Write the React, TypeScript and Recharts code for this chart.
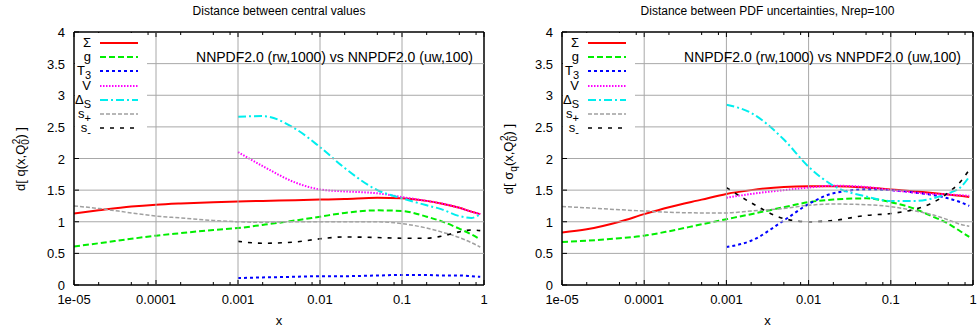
import React from "react";
import { LineChart, Line, XAxis, YAxis } from "recharts";

const xValues = [1e-5, 2e-5, 5e-5, 1e-4, 2e-4, 5e-4, 1e-3, 2e-3, 5e-3, 0.01, 0.02, 0.05, 0.1, 0.2, 0.3, 0.5, 0.7, 0.9];

// left panel: distance between central values
const cvSigma = [1.13, 1.18, 1.24, 1.27, 1.29, 1.31, 1.32, 1.33, 1.34, 1.35, 1.36, 1.38, 1.37, 1.33, 1.29, 1.22, 1.16, 1.12];
const cvG = [0.61, 0.66, 0.73, 0.78, 0.82, 0.87, 0.9, 0.95, 1.02, 1.08, 1.14, 1.18, 1.17, 1.08, 1.01, 0.89, 0.8, 0.72];
const cvT3 = [null, null, null, null, null, null, 0.11, 0.12, 0.13, 0.14, 0.14, 0.15, 0.16, 0.16, 0.15, 0.15, 0.14, 0.13];
const cvV = [null, null, null, null, null, null, 2.1, 1.88, 1.62, 1.51, 1.48, 1.45, 1.39, 1.33, 1.29, 1.22, 1.16, 1.12];
const cvDS = [null, null, null, null, null, null, 2.66, 2.67, 2.47, 2.18, 1.85, 1.5, 1.37, 1.26, 1.2, 1.09, 1.06, 1.12];
const cvSp = [1.25, 1.21, 1.14, 1.09, 1.06, 1.02, 1.0, 0.99, 1.0, 1.0, 1.0, 1.0, 0.97, 0.9, 0.84, 0.75, 0.67, 0.6];
const cvSm = [null, null, null, null, null, null, 0.69, 0.66, 0.68, 0.73, 0.76, 0.75, 0.74, 0.74, 0.77, 0.84, 0.87, 0.86];

// right panel: distance between PDF uncertainties
const unSigma = [0.83, 0.88, 1.0, 1.12, 1.23, 1.35, 1.44, 1.5, 1.55, 1.56, 1.56, 1.54, 1.51, 1.48, 1.46, 1.43, 1.41, 1.39];
const unG = [0.68, 0.7, 0.74, 0.78, 0.85, 0.96, 1.04, 1.12, 1.23, 1.31, 1.35, 1.37, 1.31, 1.2, 1.1, 0.97, 0.85, 0.76];
const unT3 = [null, null, null, null, null, null, 0.6, 0.7, 1.02, 1.28, 1.45, 1.51, 1.5, 1.46, 1.43, 1.37, 1.31, 1.25];
const unV = [null, null, null, null, null, null, 1.38, 1.44, 1.5, 1.54, 1.57, 1.55, 1.5, 1.46, 1.44, 1.43, 1.42, 1.41];
const unDS = [null, null, null, null, null, null, 2.85, 2.72, 2.3, 1.87, 1.57, 1.4, 1.33, 1.33, 1.36, 1.45, 1.54, 1.71];
const unSp = [1.24, 1.22, 1.19, 1.17, 1.15, 1.14, 1.14, 1.17, 1.21, 1.26, 1.28, 1.27, 1.24, 1.17, 1.12, 1.03, 0.96, 0.93];
const unSm = [null, null, null, null, null, null, 1.54, 1.3, 1.05, 1.0, 1.02, 1.1, 1.13, 1.2, 1.28, 1.46, 1.63, 1.82];

const majorX = [1e-5, 1e-4, 1e-3, 0.01, 0.1, 1];
const majorXLabels = ["1e-05", "0.0001", "0.001", "0.01", "0.1", "1"];
const minorX = [2e-5, 5e-5, 8e-5, 2e-4, 5e-4, 8e-4, 2e-3, 5e-3, 8e-3, 0.02, 0.05, 0.08, 0.2, 0.5, 0.8];
const yTicks = [0, 0.5, 1, 1.5, 2, 2.5, 3, 3.5, 4];
const yTickLabels = ["0", "0.5", "1", "1.5", "2", "2.5", "3", "3.5", "4"];

const FONT = "'Liberation Sans', Arial, Helvetica, sans-serif";
const allX = [...majorX, ...minorX].sort((a, b) => a - b);
const subStyle = { fontSize: 11, lineHeight: 0 };
const GRID = "#a8a8a8";
const PLOT_TOP = 32;
const PLOT_H = 253;

const series = [
  { key: "sigma", label: <>Σ</>, color: "#ff0000", dash: undefined, width: 2 },
  { key: "g", label: <>g</>, color: "#00ee00", dash: "6 3", width: 2 },
  { key: "t3", label: <>T<sub style={subStyle}>3</sub></>, color: "#0000ff", dash: "3 3", width: 2 },
  { key: "v", label: <>V</>, color: "#ff00ff", dash: "1.5 1.5", width: 2 },
  { key: "ds", label: <>Δ<sub style={subStyle}>S</sub></>, color: "#00eeee", dash: "8 3 2 3", width: 2 },
  { key: "sp", label: <>s<sub style={subStyle}>+</sub></>, color: "#a0a0a0", dash: "4 2", width: 1.5 },
  { key: "sm", label: <>s<sub style={subStyle}>-</sub></>, color: "#000000", dash: "4 6", width: 1.6 },
];

function buildRows(cols: (number | null)[][]) {
  return xValues.map((x, i) => {
    const row: any = { x };
    series.forEach((s, k) => {
      row[s.key] = cols[k][i];
    });
    return row;
  });
}

// bottom axis tick: inward tick mark, label for decades, grid line up to the top
const BottomTick = (props: any) => {
  const { x, y, payload } = props;
  const idx = majorX.indexOf(payload.value);
  const major = idx >= 0;
  const inner = major && idx > 0 && idx < majorX.length - 1;
  return (
    <g>
      {inner && <path d={`M${x},${y}L${x},${PLOT_TOP}`} stroke={GRID} strokeWidth={1} fill="none" />}
      <line x1={x} y1={y} x2={x} y2={y - (major ? 5 : 3)} stroke="#000" strokeWidth={1} />
      {major && (
        <text x={x} y={y + 19} textAnchor="middle" fontSize={13} fontFamily={FONT} fill="#000">
          {majorXLabels[idx]}
        </text>
      )}
    </g>
  );
};

const TopTick = (props: any) => {
  const { x, y, payload } = props;
  const major = majorX.indexOf(payload.value) >= 0;
  return <line x1={x} y1={y} x2={x} y2={y + (major ? 5 : 3)} stroke="#000" strokeWidth={1} />;
};

const LeftTick = (props: any) => {
  const { x, y, payload, plotW } = props;
  const idx = yTicks.indexOf(payload.value);
  const inner = idx > 0 && idx < yTicks.length - 1;
  return (
    <g>
      {inner && <path d={`M${x},${y}L${x + plotW},${y}`} stroke={GRID} strokeWidth={1} fill="none" />}
      <line x1={x} y1={y} x2={x + 5} y2={y} stroke="#000" strokeWidth={1} />
      <text x={x - 9} y={y + 5} textAnchor="end" fontSize={13} fontFamily={FONT} fill="#000">
        {yTickLabels[idx]}
      </text>
    </g>
  );
};

const RightTick = (props: any) => {
  const { x, y } = props;
  return <line x1={x} y1={y} x2={x - 5} y2={y} stroke="#000" strokeWidth={1} />;
};

function Panel({ left, width, title, yLabel, rows }: any) {
  const plotW = width - 79;
  const plotCenter = 74 + plotW / 2;
  const frame = { stroke: "#000", strokeWidth: 1.5 };
  return (
    <div style={{ position: "absolute", left, top: 0, width, height: 329, fontFamily: FONT }}>
      <LineChart width={width} height={329} data={rows} margin={{ top: 0, right: 0, bottom: 0, left: 0 }}>
        <XAxis
          dataKey="x"
          type="number"
          scale="log"
          domain={[1e-5, 1]}
          allowDataOverflow
          ticks={allX}
          interval={0}
          tickSize={0}
          tickMargin={0}
          tick={<BottomTick />}
          tickLine={false}
          axisLine={frame}
          height={44}
        />
        <XAxis
          xAxisId="top"
          orientation="top"
          dataKey="x"
          type="number"
          scale="log"
          domain={[1e-5, 1]}
          allowDataOverflow
          ticks={allX}
          interval={0}
          tickSize={0}
          tickMargin={0}
          tick={<TopTick />}
          tickLine={false}
          axisLine={frame}
          height={PLOT_TOP}
        />
        <YAxis
          type="number"
          domain={[0, 4]}
          ticks={yTicks}
          interval={0}
          tickSize={0}
          tickMargin={0}
          tick={<LeftTick plotW={plotW} />}
          tickLine={false}
          axisLine={frame}
          width={74}
        />
        <YAxis
          yAxisId="r"
          orientation="right"
          type="number"
          domain={[0, 4]}
          ticks={yTicks}
          interval={0}
          tickSize={0}
          tickMargin={0}
          tick={<RightTick />}
          tickLine={false}
          axisLine={frame}
          width={5}
        />
        {series.map((s) => (
          <Line
            key={s.key}
            dataKey={s.key}
            type="monotone"
            stroke={s.color}
            strokeWidth={s.width}
            strokeDasharray={s.dash}
            dot={false}
            activeDot={false}
            connectNulls={false}
            isAnimationActive={false}
          />
        ))}
      </LineChart>

      <div style={{ position: "absolute", left: plotCenter, top: 4, transform: "translateX(-50%)", fontSize: 12, whiteSpace: "nowrap" }}>
        {title}
      </div>
      <div style={{ position: "absolute", left: plotCenter, top: 313, transform: "translateX(-50%)", fontSize: 13 }}>x</div>
      <div
        style={{
          position: "absolute",
          left: 21,
          top: PLOT_TOP + PLOT_H / 2,
          transform: "translate(-50%, -50%) rotate(-90deg)",
          fontSize: 13,
          whiteSpace: "nowrap",
        }}
      >
        {yLabel}
      </div>
      <div style={{ position: "absolute", right: width - 473, top: 49, fontSize: 14, whiteSpace: "nowrap" }}>
        NNPDF2.0 (rw,1000) vs NNPDF2.0 (uw,100)
      </div>

      <div style={{ position: "absolute", left: 75, top: 33, width: 72, height: 101, background: "#fff" }}>
        {series.map((s, i) => (
          <div key={s.key} style={{ position: "absolute", left: 0, top: 3 + i * 14.2, width: 72, height: 14 }}>
            <span style={{ position: "absolute", right: 56, top: 0, fontSize: 13, lineHeight: "14px", whiteSpace: "nowrap" }}>
              {s.label}
            </span>
            <svg style={{ position: "absolute", left: 25, top: 0 }} width={40} height={14}>
              <line x1={0} y1={7} x2={38} y2={7} stroke={s.color} strokeWidth={s.width} strokeDasharray={s.dash} />
            </svg>
          </div>
        ))}
      </div>
    </div>
  );
}

export default function App() {
  const leftRows = buildRows([cvSigma, cvG, cvT3, cvV, cvDS, cvSp, cvSm]);
  const rightRows = buildRows([unSigma, unG, unT3, unV, unDS, unSp, unSm]);
  return (
    <div style={{ position: "absolute", left: 0, top: 0, width: 978, height: 329, background: "#fff", overflow: "hidden" }}>
      <Panel
        left={0}
        width={489}
        title="Distance between central values"
        rows={leftRows}
        yLabel={
          <>
            d[ q(x,Q<sub style={{ fontSize: 10 }}>0</sub>
            <sup style={{ fontSize: 10, marginLeft: -5 }}>2</sup>) ]
          </>
        }
      />
      <Panel
        left={488}
        width={490}
        title="Distance between PDF uncertainties, Nrep=100"
        rows={rightRows}
        yLabel={
          <>
            d[ σ<sub style={{ fontSize: 10 }}>q</sub>(x,Q<sub style={{ fontSize: 10 }}>0</sub>
            <sup style={{ fontSize: 10, marginLeft: -5 }}>2</sup>) ]
          </>
        }
      />
    </div>
  );
}
